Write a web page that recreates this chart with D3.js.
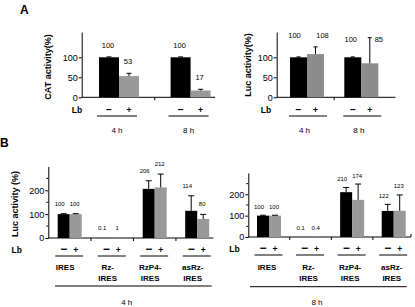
<!DOCTYPE html>
<html>
<head>
<meta charset="utf-8">
<script src="https://cdn.jsdelivr.net/npm/d3@7"></script>
<style>
  html, body { margin: 0; padding: 0; background: #fff; }
  svg { display: block; font-family: "Liberation Sans", Arial, sans-serif; }
</style>
</head>
<body>
<svg id="chart" width="415" height="307"></svg>
<script>
// Panel A: CAT and Luc activity, without (−) and with (+) Lb
const aTimes = ['4 h', '8 h'];
const lbSigns = ['\u2212', '+'];
const catValues = [[100, 53], [100, 17]];
const catErrTop = [[101, 60], [101, 20]];
const lucAValues = [[100, 108], [100, 85]];
const lucAErrTop = [[101, 126], [101, 149]];

// Panel B: Luc activity per construct
const constructs = [['IRES'], ['Rz-', 'IRES'], ['RzP4-', 'IRES'], ['asRz-', 'IRES']];
const luc4hValues = [[100, 100], [0.1, 1], [206, 212], [114, 80]];
const luc4hErrTop = [[102, 102], [0.1, 1], [240, 268], [177, 99]];
const luc8hValues = [[100, 100], [0.1, 0.4], [210, 174], [122, 123]];
const luc8hErrTop = [[102, 102], [0.1, 0.4], [232, 248], [153, 197]];

const aTicks = [0, 50, 100];
const bTicks = [0, 100, 200];
const bMinorTicks = [50, 150, 250];

const svg = d3.select('#chart');
const barColors = ['#000', '#999'];

/**
 * Draw one bar panel
 */
function drawPanel(cfg) {
    const g = svg.append('g');

    const y = d3.scaleLinear()
        .domain([0, cfg.yMax])
        .range([cfg.yBottom, cfg.yBottom - cfg.pxPerUnit * cfg.yMax]);

    const x = d3.scaleBand()
        .domain(cfg.groups.map((d, i) => i))
        .range(cfg.groupRange)
        .paddingInner(0)
        .paddingOuter(0);

    // -/+ bar pair inside a group, relative to group center
    const xIn = d3.scaleBand()
        .domain([0, 1])
        .range([-cfg.barW, cfg.barW]);

    const center = i => x(i) + x.bandwidth() / 2;

    // Y-axis
    const axis = g.append('g')
        .attr('transform', `translate(${cfg.axisX},0)`)
        .call(d3.axisLeft(y).tickValues(cfg.ticks).tickSize(3).tickSizeOuter(0).tickPadding(1));
    axis.select('.domain').attr('stroke', '#000');
    axis.selectAll('.tick line').attr('stroke', '#000');
    axis.selectAll('.tick text')
        .attr('fill', '#000')
        .style('font-size', '9px')
        .style('font-family', '"Liberation Sans", Arial, sans-serif');

    // Minor ticks
    g.selectAll('.minor')
        .data(cfg.minorTicks || [])
        .enter()
        .append('line')
        .attr('x1', cfg.axisX - 2)
        .attr('x2', cfg.axisX)
        .attr('y1', d => y(d))
        .attr('y2', d => y(d))
        .attr('stroke', '#000');

    // X-axis baseline
    g.append('line')
        .attr('x1', cfg.axisX)
        .attr('x2', cfg.axisRight)
        .attr('y1', cfg.yBottom)
        .attr('y2', cfg.yBottom)
        .attr('stroke', '#000');

    // Group separator ticks
    g.selectAll('.sep')
        .data(cfg.groups.slice(1).map((d, i) => i + 1))
        .enter()
        .append('line')
        .attr('x1', i => x(i))
        .attr('x2', i => x(i))
        .attr('y1', cfg.yBottom)
        .attr('y2', cfg.yBottom + 3)
        .attr('stroke', '#000');

    if (cfg.endTickUp) {
        g.append('line')
            .attr('x1', cfg.axisRight)
            .attr('x2', cfg.axisRight)
            .attr('y1', cfg.yBottom)
            .attr('y2', cfg.yBottom - 3)
            .attr('stroke', '#000');
    }

    // Flatten bars
    const bars = [];
    cfg.values.forEach((pair, i) => {
        pair.forEach((v, j) => {
            bars.push({ group: i, sign: j, value: v, err: cfg.errTop[i][j] });
        });
    });
    const barX = d => center(d.group) + xIn(d.sign);
    const barMid = d => barX(d) + cfg.barW / 2;

    g.selectAll('.bar')
        .data(bars)
        .enter()
        .append('rect')
        .attr('x', barX)
        .attr('width', cfg.barW)
        .attr('y', d => y(d.value))
        .attr('height', d => cfg.yBottom - y(d.value))
        .attr('fill', d => cfg.colors[d.sign]);

    // Error bars (upper whisker only)
    const errs = bars.filter(d => d.err > d.value);
    g.selectAll('.err')
        .data(errs)
        .enter()
        .append('line')
        .attr('x1', barMid)
        .attr('x2', barMid)
        .attr('y1', d => y(d.value))
        .attr('y2', d => y(d.err))
        .attr('stroke', '#000');
    g.selectAll('.cap')
        .data(errs)
        .enter()
        .append('line')
        .attr('x1', d => barMid(d) - cfg.capW / 2)
        .attr('x2', d => barMid(d) + cfg.capW / 2)
        .attr('y1', d => y(d.err))
        .attr('y2', d => y(d.err))
        .attr('stroke', '#000');

    // Value labels
    const yTop = y(cfg.yMax);
    const labelPos = d => {
        if (cfg.pairLabels) {
            const pairTop = d3.min(cfg.errTop[d.group], e => y(e)) - 12;
            if (pairTop >= yTop) {
                return { x: barMid(d) + cfg.labelDx[d.sign], y: pairTop + 3 };
            }
            return { x: barMid(d) + cfg.labelDx[d.sign] + 2, y: yTop + 10 };
        }
        return { x: barMid(d) + cfg.labelDx[d.sign], y: y(d.err) - cfg.labelGap };
    };
    g.selectAll('.val')
        .data(bars)
        .enter()
        .append('text')
        .attr('x', d => labelPos(d).x)
        .attr('y', d => labelPos(d).y)
        .attr('text-anchor', 'middle')
        .style('font-size', cfg.labelSize + 'px')
        .text(d => String(d.value));

    // Lb row
    g.append('text')
        .attr('x', cfg.lbX)
        .attr('y', cfg.signY)
        .attr('text-anchor', 'middle')
        .style('font-size', '8.5px')
        .style('font-weight', 'bold')
        .text('Lb');

    g.selectAll('.sign')
        .data(bars)
        .enter()
        .append('text')
        .attr('x', barMid)
        .attr('y', cfg.signY)
        .attr('text-anchor', 'middle')
        .style('font-size', d => (d.sign === 0 ? cfg.minusSize : 8.5) + 'px')
        .style('font-weight', 'bold')
        .text(d => lbSigns[d.sign]);

    g.selectAll('.ul')
        .data(cfg.groups.map((d, i) => i))
        .enter()
        .append('line')
        .attr('x1', i => center(i) + cfg.ulSpan[0])
        .attr('x2', i => center(i) + cfg.ulSpan[1])
        .attr('y1', cfg.ulY)
        .attr('y2', cfg.ulY)
        .attr('stroke', '#000');

    // Group names
    const names = g.selectAll('.name')
        .data(cfg.groups.map((d, i) => ({ lines: d, i })))
        .enter()
        .append('text')
        .attr('text-anchor', 'middle')
        .style('font-size', cfg.nameSize + 'px')
        .style('font-weight', cfg.nameBold ? 'bold' : 'normal');
    names.selectAll('tspan')
        .data(d => d.lines.map((t, k) => ({ t, k, i: d.i })))
        .enter()
        .append('tspan')
        .attr('x', d => center(d.i) + cfg.nameDx)
        .attr('y', d => cfg.nameY + d.k * cfg.nameLine)
        .text(d => d.t);

    // Overall time label (panel B)
    if (cfg.timeLabel) {
        g.append('line')
            .attr('x1', cfg.timeLine[0])
            .attr('x2', cfg.timeLine[1])
            .attr('y1', cfg.timeLineY)
            .attr('y2', cfg.timeLineY)
            .attr('stroke', '#000');
        g.append('text')
            .attr('x', cfg.timeX)
            .attr('y', cfg.timeY)
            .attr('text-anchor', 'middle')
            .style('font-size', '8px')
            .text(cfg.timeLabel);
    }

    // Y label
    if (cfg.yLabel) {
        g.append('text')
            .attr('transform', `translate(${cfg.yLabelX},${cfg.yLabelY}) rotate(-90)`)
            .attr('text-anchor', 'middle')
            .attr('dy', '0.35em')
            .style('font-size', '9px')
            .style('font-weight', 'bold')
            .text(cfg.yLabel);
    }
}

// Panel letters
svg.append('text').attr('x', 20).attr('y', 14)
    .style('font-size', '12px').style('font-weight', 'bold').text('A');
svg.append('text').attr('x', 0).attr('y', 147)
    .style('font-size', '12px').style('font-weight', 'bold').text('B');

// A left: CAT
drawPanel({
    groups: aTimes.map(t => [t]), values: catValues, errTop: catErrTop,
    colors: barColors,
    axisX: 81.7, axisRight: 215, yBottom: 97.3, pxPerUnit: 0.4, yMax: 163,
    ticks: aTicks, groupRange: [83.2, 226.4], barW: 20, capW: 5,
    labelGap: 9, labelDx: [-1, -1], labelSize: 7.5,
    lbX: 77, signY: 113, ulY: 116, ulSpan: [-22, 18], minusSize: 10,
    nameY: 133, nameLine: 0, nameDx: -2, nameSize: 8, nameBold: false,
    yLabel: 'CAT activity(%)', yLabelX: 48, yLabelY: 67
});

// A right: Luc
drawPanel({
    groups: aTimes.map(t => [t]), values: lucAValues, errTop: lucAErrTop,
    colors: ['#000', '#8c8c8c'],
    axisX: 276.7, axisRight: 395.5, yBottom: 97.3, pxPerUnit: 0.4, yMax: 163,
    ticks: aTicks, groupRange: [279.85, 388.45], barW: 17, capW: 4,
    pairLabels: true, labelDx: [-4, 7], labelSize: 7.5,
    lbX: 266, signY: 113, ulY: 116, ulSpan: [-18, 20], minusSize: 10,
    nameY: 133, nameLine: 0, nameDx: -2.5, nameSize: 8, nameBold: false,
    yLabel: 'Luc activity(%)', yLabelX: 247.7, yLabelY: 65
});

// B left: 4 h
drawPanel({
    groups: constructs, values: luc4hValues, errTop: luc4hErrTop,
    colors: barColors,
    axisX: 48.3, axisRight: 213.3, yBottom: 238, pxPerUnit: 0.2385, yMax: 300,
    ticks: bTicks, minorTicks: bMinorTicks, groupRange: [48.45, 218.45], barW: 12, capW: 6,
    labelGap: 8, labelDx: [-4, -1], labelSize: 6,
    lbX: 16.7, signY: 253, ulY: 256, ulSpan: [-14.5, 13.5], minusSize: 12,
    nameY: 270.3, nameLine: 11, nameDx: -4.5, nameSize: 8, nameBold: true,
    timeLabel: '4 h', timeLine: [55, 211.7], timeLineY: 286, timeX: 126.7, timeY: 305,
    yLabel: 'Luc activity (%)', yLabelX: 15, yLabelY: 204
});

// B right: 8 h
drawPanel({
    groups: constructs, values: luc8hValues, errTop: luc8hErrTop,
    colors: barColors,
    axisX: 248.3, axisRight: 411, yBottom: 237, pxPerUnit: 0.2135, yMax: 300,
    ticks: bTicks, minorTicks: bMinorTicks, groupRange: [248.2, 414.5], barW: 12, capW: 6,
    labelGap: 6.5, labelDx: [-4, -1], labelSize: 6, endTickUp: true,
    lbX: 234.5, signY: 252, ulY: 255, ulSpan: [-14.5, 13.5], minusSize: 12,
    nameY: 269.7, nameLine: 11, nameDx: -2, nameSize: 8, nameBold: true,
    timeLabel: '8 h', timeLine: [250, 406.7], timeLineY: 286.7, timeX: 317, timeY: 304.5
});
</script>
</body>
</html>
